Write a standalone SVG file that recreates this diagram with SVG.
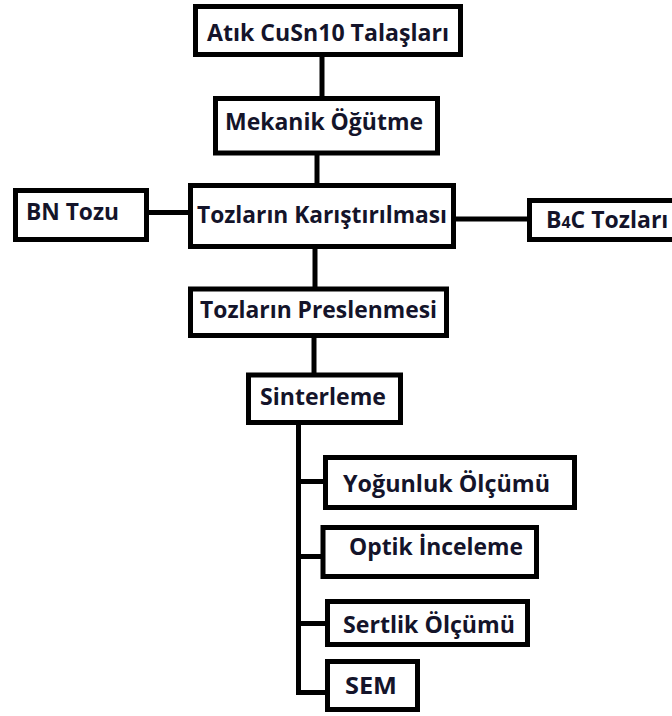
<svg xmlns="http://www.w3.org/2000/svg" width="672" height="716" viewBox="0 0 672 716">
  <style>
    .box { fill: #ffffff; stroke: #000000; stroke-width: 5; }
    .wire { fill: none; stroke: #000000; stroke-width: 5; stroke-linecap: butt; stroke-linejoin: miter; }
    .lbl { font-family: "Open Sans", "Liberation Sans", sans-serif; font-weight: bold; font-size: 23px; fill: #14142a; }
  </style>
  <rect width="672" height="716" fill="#ffffff"/>

  <!-- connectors -->
  <g id="connectors">
    <line class="wire" x1="322" y1="56" x2="322" y2="98"/>
    <line class="wire" x1="317" y1="154" x2="317" y2="185"/>
    <line class="wire" x1="148" y1="212.5" x2="190" y2="212.5"/>
    <line class="wire" x1="454" y1="219" x2="529" y2="219"/>
    <line class="wire" x1="315" y1="248" x2="315" y2="289"/>
    <line class="wire" x1="314" y1="337" x2="314" y2="375"/>
    <polyline class="wire" points="298.5,423 298.5,692.5 328,692.5"/>
    <line class="wire" x1="298.5" y1="481.5" x2="325" y2="481.5"/>
    <line class="wire" x1="298.5" y1="556.5" x2="323" y2="556.5"/>
    <line class="wire" x1="298.5" y1="623.5" x2="327" y2="623.5"/>
  </g>

  <g id="talaslar">
    <rect class="box" x="195.5" y="6.5" width="265" height="48"/>
    <text class="lbl" x="207" y="41" textLength="242" lengthAdjust="spacingAndGlyphs">Atık CuSn10 Talaşları</text>
  </g>

  <g id="ogutme">
    <rect class="box" x="215.5" y="98.5" width="222" height="54.5"/>
    <text class="lbl" x="225" y="130" textLength="198" lengthAdjust="spacingAndGlyphs">Mekanik Öğütme</text>
  </g>

  <g id="bn-tozu">
    <rect class="box" x="15.5" y="190.5" width="131" height="49"/>
    <text class="lbl" x="26" y="220" textLength="93" lengthAdjust="spacingAndGlyphs">BN Tozu</text>
  </g>

  <g id="karistirma">
    <rect class="box" x="190.5" y="185.5" width="263" height="61"/>
    <text class="lbl" x="197" y="223" textLength="250" lengthAdjust="spacingAndGlyphs">Tozların Karıştırılması</text>
  </g>

  <g id="b4c-tozlari">
    <rect class="box" x="529.5" y="200.5" width="160" height="39"/>
    <text class="lbl" x="546" y="228">B<tspan font-size="16px">4</tspan>C Tozları</text>
  </g>

  <g id="presleme">
    <rect class="box" x="190.5" y="289" width="256" height="46.5"/>
    <text class="lbl" x="200" y="318" textLength="237" lengthAdjust="spacingAndGlyphs">Tozların Preslenmesi</text>
  </g>

  <g id="sinterleme">
    <rect class="box" x="248.5" y="375" width="152" height="47.5"/>
    <text class="lbl" x="260" y="405" textLength="126" lengthAdjust="spacingAndGlyphs">Sinterleme</text>
  </g>

  <g id="yogunluk">
    <rect class="box" x="325.5" y="457.5" width="249" height="50"/>
    <text class="lbl" x="343" y="492" textLength="207" lengthAdjust="spacingAndGlyphs">Yoğunluk Ölçümü</text>
  </g>

  <g id="optik">
    <rect class="box" x="323" y="527.5" width="213.5" height="49"/>
    <text class="lbl" x="349" y="555" textLength="174" lengthAdjust="spacingAndGlyphs">Optik İnceleme</text>
  </g>

  <g id="sertlik">
    <rect class="box" x="327.5" y="601.5" width="200" height="43"/>
    <text class="lbl" x="343" y="633" textLength="172" lengthAdjust="spacingAndGlyphs">Sertlik Ölçümü</text>
  </g>

  <g id="sem">
    <rect class="box" x="327.5" y="661.5" width="90" height="48"/>
    <text class="lbl" x="345" y="694" textLength="52" lengthAdjust="spacingAndGlyphs">SEM</text>
  </g>
</svg>
